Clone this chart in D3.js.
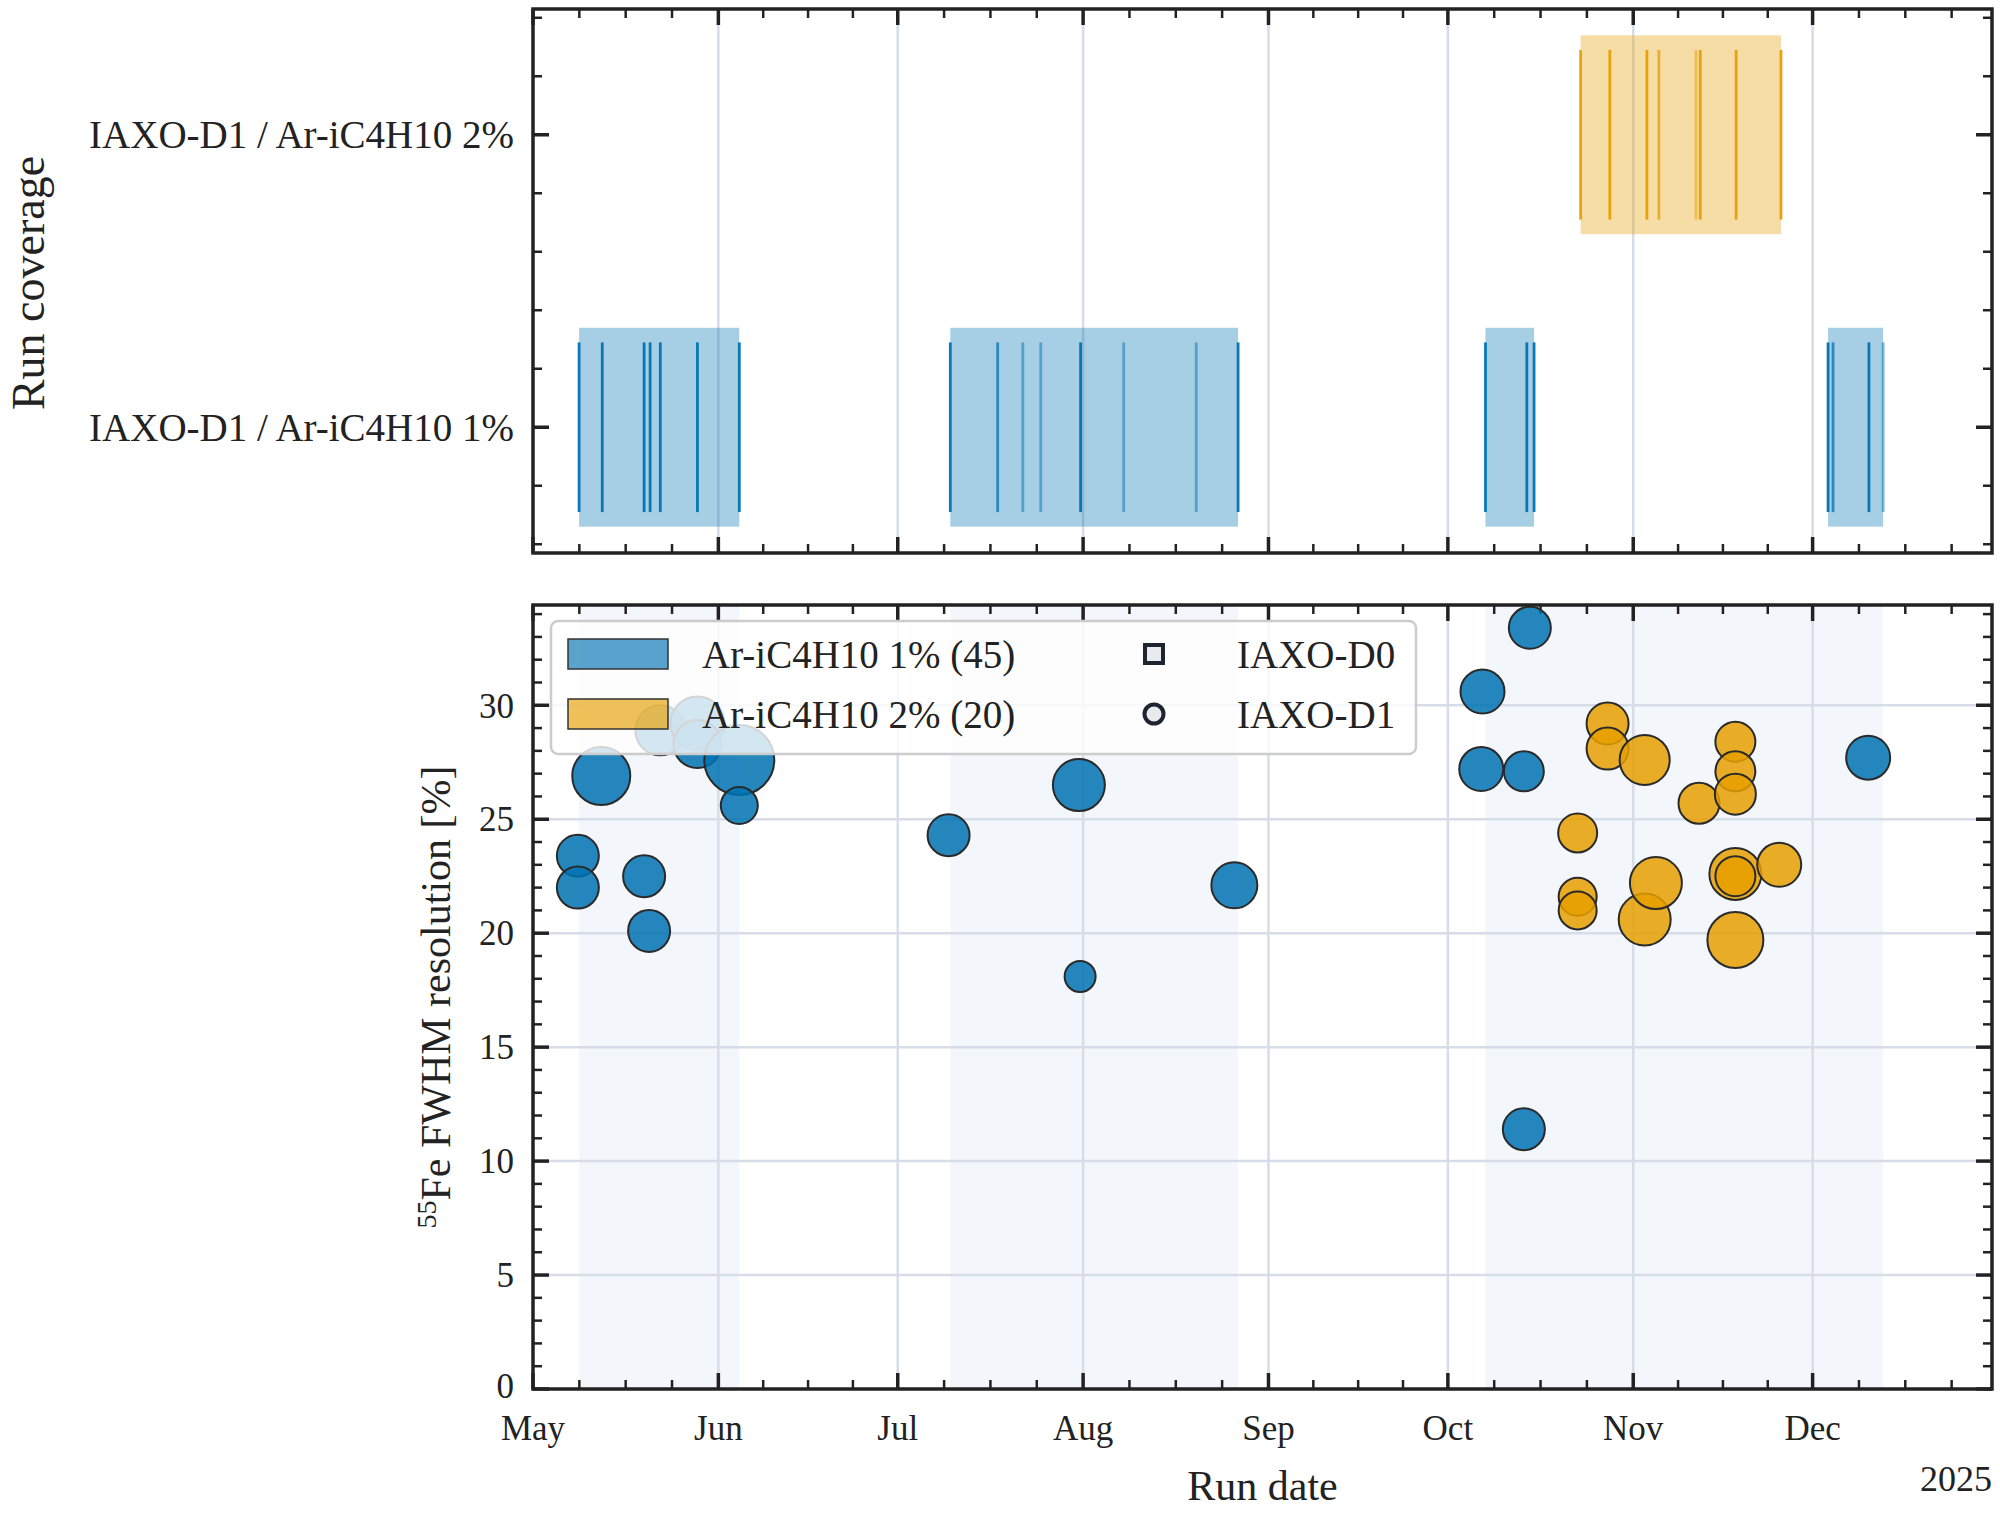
<!DOCTYPE html>
<html><head><meta charset="utf-8">
<script src="https://cdn.jsdelivr.net/npm/d3@7"></script>
<style>body{margin:0;background:#fff}svg{font-family:"Liberation Serif","DejaVu Serif",serif}</style>
</head><body><svg id="c" width="2000" height="1524"></svg>
<script>
// ---- data ----
const gasCategories = ["IAXO-D1 / Ar-iC4H10 1%", "IAXO-D1 / Ar-iC4H10 2%"];
const monthTicks = ["2025-05-01","2025-06-01","2025-07-01","2025-08-01","2025-09-01","2025-10-01","2025-11-01","2025-12-01"];
const monthLabels = ["May","Jun","Jul","Aug","Sep","Oct","Nov","Dec"];
// coverage: run start dates per gas, with run multiplicity (overlap)
const runs1Dates = ["2025-05-08T17:00","2025-05-12T14:00","2025-05-19T14:00","2025-05-20T14:00","2025-05-22T07:00","2025-05-28T12:00","2025-06-04T12:00",
  "2025-07-09T19:00","2025-07-17T17:00","2025-07-21T22:00","2025-07-24T22:00","2025-07-31T14:00","2025-08-07T19:00","2025-08-19T22:00","2025-08-26T22:00",
  "2025-10-07T07:00","2025-10-14T05:00","2025-10-15T10:00",
  "2025-12-03T14:00","2025-12-04T10:00","2025-12-10T10:00","2025-12-12T19:00"];
const runs1Mult = [2,2,2,2,2,2,2, 2,1.5,1,1,2,1,1,2, 2,2,2, 2,1.5,2,1];
const runs2Dates = ["2025-10-23T05:00","2025-10-28T02:00","2025-11-03T07:00","2025-11-05T07:00","2025-11-11T12:00","2025-11-12T05:00","2025-11-18T05:00","2025-11-25T17:00"];
const runs2Mult = [2,2,2,1.5,1,2,2,2];
// campaign blocks [start, end] for each gas
const blocks1 = [["2025-05-08T17:00","2025-06-04T12:00"],["2025-07-09T19:00","2025-08-26T22:00"],["2025-10-07T07:00","2025-10-15T10:00"],["2025-12-03T14:00","2025-12-12T19:00"]];
const blocks2 = [["2025-10-23T05:00","2025-11-25T17:00"]];
const shadeSpans = [["2025-05-08T17:00","2025-06-04T12:00"],["2025-07-09T19:00","2025-08-26T22:00"],["2025-10-07T07:00","2025-12-12T19:00"]];
// resolution points
const res1Dates = ["2025-05-08T12:00","2025-05-08T12:00","2025-05-12T10:00","2025-05-19T14:00","2025-05-20T10:00","2025-05-22T07:00","2025-05-28T12:00","2025-05-28T12:00","2025-06-04T12:00","2025-06-04T12:00",
  "2025-07-09T12:00","2025-07-31T07:00","2025-07-31T12:00","2025-08-26T07:00","2025-10-06T19:00","2025-10-06T14:00","2025-10-14T17:00","2025-10-13T17:00","2025-10-13T17:00","2025-12-10T07:00"];
const res1Values = [23.4,22.0,26.9,22.5,20.1,28.9,29.2,28.3,27.6,25.6, 24.3,26.5,18.1,22.1,30.6,27.2,33.4,27.1,11.4,27.7];
const res1Sizes = [21,21,29,21,21,25,27,24,35,18.5, 21,26,15.5,23,22,22,21,20,21,22];
const res2Dates = ["2025-10-27T17:00","2025-10-27T17:00","2025-11-02T22:00","2025-11-02T22:00","2025-10-22T17:00","2025-10-22T17:00","2025-10-22T17:00","2025-11-04T19:00",
  "2025-11-12T00:00","2025-11-18T02:00","2025-11-18T02:00","2025-11-18T02:00","2025-11-18T02:00","2025-11-18T02:00","2025-11-18T02:00","2025-11-25T10:00"];
const res2Values = [29.2,28.1,27.6,20.6,24.4,21.6,21.0,22.2, 25.7,28.4,27.1,26.1,22.6,22.5,19.7,23.0];
const res2Sizes = [21,21,25,26,19.5,19,19,26, 20.5,20,20,20.5,26,20,28,22];
const legendLabels = ["Ar-iC4H10 1% (45)","Ar-iC4H10 2% (20)"];
const detectorLabels = ["IAXO-D0","IAXO-D1"];
const yTicks = [0,5,10,15,20,25,30];

// ---- drawing ----
const P = d3.isoParse;
const C1 = "#0072B2", C2 = "#E69F00", INK = "#222";
const svg = d3.select("#c");
const L = 533, R = 1992;
const x = d3.scaleTime().domain([P("2025-05-01T00:00"), P("2025-12-31T00:00")]).range([L, R]);
const top1 = 9, bot1 = 553, top2 = 605, bot2 = 1389;
const yc = d3.scaleLinear().domain([-0.43, 1.43]).range([bot1, top1]);
const yr = d3.scaleLinear().domain([0, 34.4]).range([bot2, top2]);
const rs = d3.scaleLinear().domain([0, 1]).range([0, 1]);

const majors = monthTicks.map(P).concat([P("2026-01-01T00:00")]);
const minors = [];
for (let i = 0; i < majors.length - 1; i++) {
  const a = +majors[i], b = +majors[i+1];
  for (let k = 1; k < 4; k++) { const t = new Date(a + (b - a) * k / 4); if (t <= x.domain()[1]) minors.push(t); }
}
const grid = "#d6dde8";

function frame(g, top, bot, yScale, yMaj, yMin) {
  g.selectAll(null).data(monthTicks.slice(1).map(P)).join("line")
    .attr("x1", d => x(d)).attr("x2", d => x(d)).attr("y1", top).attr("y2", bot)
    .attr("stroke", grid).attr("stroke-width", 2.5);
  const tk = g.append("g");
  const xt = [...monthTicks.map(d => ({t: P(d), L: 16})), ...minors.map(t => ({t, L: 9}))];
  xt.forEach(o => {
    const w = o.L > 10 ? 3.5 : 2.5;
    tk.append("line").attr("x1", x(o.t)).attr("x2", x(o.t)).attr("y1", bot).attr("y2", bot - o.L).attr("stroke", INK).attr("stroke-width", w);
    tk.append("line").attr("x1", x(o.t)).attr("x2", x(o.t)).attr("y1", top).attr("y2", top + o.L).attr("stroke", INK).attr("stroke-width", w);
  });
  const yt = [...yMaj.map(v => ({v, L: 16})), ...yMin.map(v => ({v, L: 9}))];
  yt.forEach(o => {
    const yy = yScale(o.v), w = o.L > 10 ? 3.5 : 2.5;
    tk.append("line").attr("x1", L).attr("x2", L + o.L).attr("y1", yy).attr("y2", yy).attr("stroke", INK).attr("stroke-width", w);
    tk.append("line").attr("x1", R).attr("x2", R - o.L).attr("y1", yy).attr("y2", yy).attr("stroke", INK).attr("stroke-width", w);
  });
  return tk;
}

// ---- top panel ----
const g1 = svg.append("g");
frame(g1, top1, bot1, yc, [0, 1], d3.range(-0.4, 1.41, 0.2).map(v => +v.toFixed(2)).filter(v => v !== 0 && v !== 1));
function coverage(blocks, dates, mult, idx, col) {
  g1.selectAll(null).data(blocks).join("rect")
    .attr("x", d => x(P(d[0]))).attr("width", d => x(P(d[1])) - x(P(d[0])))
    .attr("y", yc(idx + 0.34)).attr("height", yc(idx - 0.34) - yc(idx + 0.34))
    .attr("fill", col).attr("fill-opacity", 0.35);
  g1.selectAll(null).data(dates.map((d, i) => ({d: P(d), m: mult[i]}))).join("line")
    .attr("x1", d => x(d.d)).attr("x2", d => x(d.d)).attr("y1", yc(idx + 0.29)).attr("y2", yc(idx - 0.29))
    .attr("stroke", col).attr("stroke-width", 2.8).attr("stroke-opacity", d => d.m >= 2 ? 0.95 : d.m > 1 ? 0.75 : 0.5);
}
coverage(blocks1, runs1Dates, runs1Mult, 0, C1);
coverage(blocks2, runs2Dates, runs2Mult, 1, C2);
g1.append("rect").attr("x", L).attr("y", top1).attr("width", R - L).attr("height", bot1 - top1).attr("fill", "none").attr("stroke", INK).attr("stroke-width", 3.5);
gasCategories.forEach((c, i) => g1.append("text").attr("x", 514).attr("y", yc(i)).attr("dy", "0.35em").attr("text-anchor", "end").attr("font-size", 39).attr("fill", INK).text(c));
svg.append("text").attr("transform", `translate(44,${(top1 + bot1) / 2 + 2}) rotate(-90)`).attr("text-anchor", "middle").attr("font-size", 46).attr("fill", INK).text("Run coverage");

// ---- bottom panel ----
const g2 = svg.append("g");
g2.selectAll(null).data(shadeSpans).join("rect")
  .attr("x", d => x(P(d[0]))).attr("width", d => x(P(d[1])) - x(P(d[0])))
  .attr("y", top2).attr("height", bot2 - top2).attr("fill", "#f3f6fb");
g2.selectAll(null).data(yTicks.slice(1)).join("line")
  .attr("x1", L).attr("x2", R).attr("y1", d => yr(d)).attr("y2", d => yr(d)).attr("stroke", grid).attr("stroke-width", 2.5);
frame(g2, top2, bot2, yr, yTicks, d3.range(0, 35).filter(v => v % 5 !== 0));
function pts(dates, vals, sizes, col) {
  g2.selectAll(null).data(dates.map((d, i) => ({d: P(d), v: vals[i], s: sizes[i]}))).join("circle")
    .attr("cx", d => x(d.d)).attr("cy", d => yr(d.v)).attr("r", d => rs(d.s))
    .attr("fill", col).attr("fill-opacity", 0.85).attr("stroke", "#2a2a2a").attr("stroke-width", 2);
}
pts(res1Dates, res1Values, res1Sizes, C1);
pts(res2Dates, res2Values, res2Sizes, C2);
g2.append("rect").attr("x", L).attr("y", top2).attr("width", R - L).attr("height", bot2 - top2).attr("fill", "none").attr("stroke", INK).attr("stroke-width", 3.5);
g2.selectAll(null).data(yTicks).join("text").attr("x", 514).attr("y", d => yr(d)).attr("dy", d => d === 0 ? "0.25em" : "0.35em")
  .attr("text-anchor", "end").attr("font-size", 35).attr("fill", INK).text(d => d);
g2.selectAll(null).data(monthTicks).join("text").attr("x", d => x(P(d))).attr("y", 1440)
  .attr("text-anchor", "middle").attr("font-size", 35).attr("fill", INK).text((d, i) => monthLabels[i]);
svg.append("text").attr("x", (L + R) / 2).attr("y", 1500).attr("text-anchor", "middle").attr("font-size", 42).attr("fill", INK).text("Run date");
svg.append("text").attr("x", R).attr("y", 1491).attr("text-anchor", "end").attr("font-size", 36).attr("fill", INK).text("2025");
const yl = svg.append("text").attr("transform", `translate(450,${(top2 + bot2) / 2}) rotate(-90)`).attr("text-anchor", "middle").attr("font-size", 42).attr("fill", INK);
yl.append("tspan").attr("font-size", 28).attr("dy", -14).text("55");
yl.append("tspan").attr("dy", 14).text("Fe FWHM resolution [%]");

// legend
const lg = svg.append("g");
lg.append("rect").attr("x", 551).attr("y", 621).attr("width", 865).attr("height", 133).attr("rx", 7)
  .attr("fill", "#fff").attr("fill-opacity", 0.8).attr("stroke", "#cccccc").attr("stroke-width", 2.5);
[C1, C2].forEach((c, i) => {
  const yy = 654 + i * 60;
  lg.append("rect").attr("x", 568).attr("y", yy - 15).attr("width", 100).attr("height", 30).attr("fill", c).attr("fill-opacity", 0.65).attr("stroke", "#333").attr("stroke-width", 1.5);
  lg.append("text").attr("x", 702).attr("y", yy).attr("dy", "0.35em").attr("font-size", 39).attr("fill", INK).text(legendLabels[i]);
  lg.append("text").attr("x", 1237).attr("y", yy).attr("dy", "0.35em").attr("font-size", 39).attr("fill", INK).text(detectorLabels[i]);
});
lg.append("rect").attr("x", 1145).attr("y", 645).attr("width", 18).attr("height", 18).attr("fill", "#e8eaee").attr("stroke", "#1e2530").attr("stroke-width", 4);
lg.append("circle").attr("cx", 1154).attr("cy", 714).attr("r", 9.5).attr("fill", "#e8eaee").attr("stroke", "#1e2530").attr("stroke-width", 4);
</script></body></html>
